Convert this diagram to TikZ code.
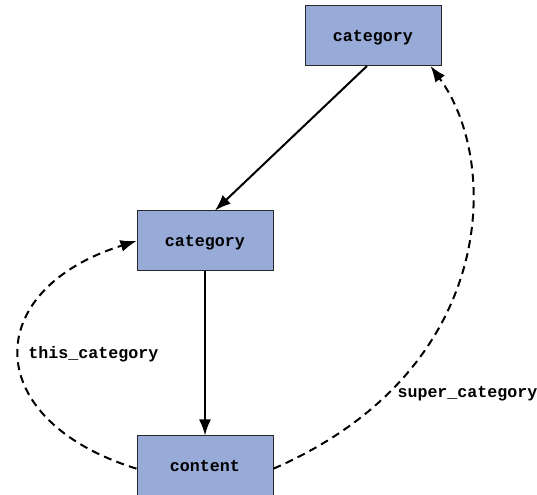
\documentclass[tikz,border=0pt]{standalone}
\usepackage{fontspec}
\setmonofont{Liberation Mono}
\usetikzlibrary{arrows.meta}
\definecolor{boxfill}{RGB}{152,171,216}
\definecolor{boxline}{RGB}{40,40,40}
\tikzset{every picture/.style={line width=0.75pt}}
\tikzset{
  classbox/.style={draw=boxline, fill=boxfill, line width=0.75pt, inner sep=0pt,
    minimum width=102pt, minimum height=45pt, text depth=0pt,
    font=\ttfamily\bfseries\fontsize{12.5}{14}\selectfont},
  reltext/.style={inner sep=0pt, font=\ttfamily\bfseries\fontsize{12.5}{14}\selectfont},
  rel/.style={line width=1.5pt, -{Latex[length=12pt,width=9pt]}},
  refrel/.style={rel, dash pattern=on 6pt off 4pt}
}

\begin{document}
\begin{tikzpicture}[x=0.75pt,y=0.75pt,yscale=-1,xscale=1]
\useasboundingbox (0,0) rectangle (537,495);

%Shape: Rectangle [id:top category]
\node [classbox] (supcat) at (373,35.5) {category};
%Shape: Rectangle [id:category]
\node [classbox] (cat) at (205,241) {category};
%Shape: Rectangle [id:content]
\node [classbox] (cont) at (205,466) {content};

%Straight Lines
\draw [rel] ([xshift=-4.5pt]supcat.south) -- ([xshift=7.5pt]cat.north);
\draw [rel] (cat.south) -- (cont.north);

%Curve Lines
\draw [refrel] ([yshift=2pt]cont.west) .. controls (-20,420) and (-20,290) .. (cat.west);
\draw [refrel] ([yshift=2pt]cont.east) .. controls (500,370) and (500,160) .. ([xshift=-8.25pt]supcat.south east);

% Text Node
\node [reltext, anchor=west] (thiscat) at (28,354) {this\_category};
% Text Node
\node [reltext, anchor=west] (supercat) at (397,394) {super\_category};

\end{tikzpicture}
\end{document}
